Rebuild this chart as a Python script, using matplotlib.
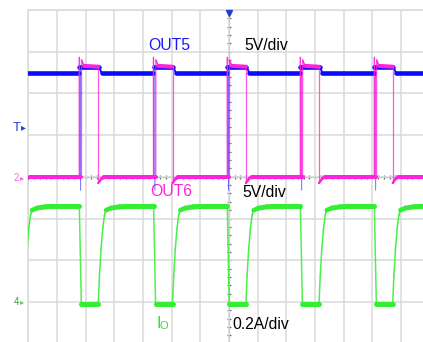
import matplotlib
matplotlib.use("Agg")
import matplotlib.pyplot as plt
import numpy as np
from matplotlib.collections import LineCollection
from matplotlib.colors import to_rgba

# screen is 14 x 8 divisions; times and levels below are in divisions
pulse_on = [1.82, 4.41, 6.98, 9.53, 12.11]
pulse_off = [2.44, 5.03, 7.59, 10.14, 12.71]
prev_off = -0.14

out5_level = 6.49
out5_high = 6.64
out5_glitch = 3.68

out6_low = 4.00
out6_high = 6.64
out6_peak = 6.87
out6_settle_t = [0.0, 0.05, 0.12, 0.20]
out6_settle_v = [3.85, 3.90, 3.96, 4.00]

io_high = 3.29
io_low = 0.94
io_rise_t = [0.0, 0.042, 0.098, 0.157, 0.216, 0.272, 0.446, 0.73]
io_rise_v = [0.94, 1.63, 2.28, 2.76, 3.08, 3.20, 3.25, 3.28]

PX_X = 28.67  # pixels per horizontal division
PX_Y = 41.7   # pixels per vertical division

BLUE = "#0a0aff"
PINK = "#ff22dd"
GREEN = "#33ee33"
GRID = "#dadada"
FONT = "Liberation Sans"


def build_out5():
    t, v = [-0.6], [out5_level]
    for on, off in zip([None] + pulse_on, [prev_off] + pulse_off):
        if on is not None:
            t += [on - 0.05, on - 0.04, on, on + 0.005, on + 0.01]
            v += [out5_level, out5_high, out5_high, out5_glitch, out5_high]
        t += [off + 0.02, off + 0.12]
        v += [out5_high, out5_level]
    t.append(14.6)
    v.append(out5_level)
    return t, v


def build_out6():
    t, v = [-0.6], [out6_low]
    for on, off in zip([None] + pulse_on, [prev_off] + pulse_off):
        if on is not None:
            t += [on - 0.045, on - 0.045, on - 0.04, on + 0.035, on + 0.04, on + 0.12]
            v += [out6_low, out6_peak, out6_low, out6_low, 6.80, out6_high + 0.02]
            t.append(off)
            v.append(out6_high)
        t += [off + dt for dt in out6_settle_t]
        v += list(out6_settle_v)
    t.append(14.6)
    v.append(out6_low)
    return t, v


def build_io():
    t, v = [], []
    for on, off in zip([None] + pulse_on, [prev_off] + pulse_off):
        if on is not None:
            t += [on - 0.04, on + 0.03]
            v += [io_high, io_low]
        t += [off + dt for dt in io_rise_t]
        v += list(io_rise_v)
        t.append(off + 1.0)
        v.append(io_high)
    # keep times increasing where the flat top meets the next falling edge
    order = np.argsort(t, kind="stable")
    t = list(np.array(t)[order])
    v = list(np.array(v)[order])
    t.append(14.6)
    v.append(io_high)
    return t, v


def draw_trace(ax, t, v, color, thick, thin, z, edge_alpha=0.6):
    t = np.asarray(t, float)
    v = np.asarray(v, float)
    pts = np.column_stack([t, v])
    segs = np.stack([pts[:-1], pts[1:]], axis=1)
    dx = np.diff(t) * PX_X
    dy = np.diff(v) * PX_Y
    length = np.hypot(dx, dy)
    keep = length > 0
    cosang = np.abs(dx[keep]) / length[keep]
    widths = np.maximum(thin, thick * cosang)
    # fast edges are drawn fainter, like a phosphor trace
    rgba = np.tile(to_rgba(color), (keep.sum(), 1))
    rgba[:, 3] = edge_alpha + (1 - edge_alpha) * np.clip(cosang * 3, 0, 1)
    lc = LineCollection(segs[keep], colors=rgba, linewidths=widths,
                        capstyle="round", joinstyle="round", zorder=z)
    ax.add_collection(lc)


fig = plt.figure(figsize=(4.23, 3.42), dpi=100)
fig.patch.set_facecolor("white")
ax = fig.add_axes([28.3 / 423, -1.6 / 342, 14 * PX_X / 423, 8 * PX_Y / 342])
ax.set_xlim(0, 14)
ax.set_ylim(0, 8)
ax.set_xticks(range(15))
ax.set_yticks(range(9))
ax.grid(True, color=GRID, lw=1.1)
ax.tick_params(length=0, labelbottom=False, labelleft=False)
for side in ("top", "left"):
    ax.spines[side].set_color(GRID)
    ax.spines[side].set_linewidth(1.1)
for side in ("right", "bottom"):
    ax.spines[side].set_visible(False)

# center graticule with minor marks
ax.axvline(7, color="#a0a0a0", lw=0.8, zorder=1)
ax.axhline(4, color="#a0a0a0", lw=0.8, zorder=1)
ax.plot(np.full(41, 7.0), np.arange(0, 8.01, 0.2), ls="none", marker="_",
        ms=2.6, mew=0.9, color="#707070", zorder=1)
ax.plot(np.arange(0, 14.01, 0.2), np.full(71, 4.0), ls="none", marker="|",
        ms=2.6, mew=0.9, color="#707070", zorder=1)

draw_trace(ax, *build_io(), GREEN, thick=3.6, thin=1.1, z=3, edge_alpha=0.85)
draw_trace(ax, *build_out5(), BLUE, thick=3.3, thin=0.7, z=4, edge_alpha=0.35)
draw_trace(ax, *build_out6(), PINK, thick=2.9, thin=0.9, z=5, edge_alpha=0.75)

# trigger position marker
ax.plot(7, 7.94, marker="v", ms=4.5, color="#2040d0", clip_on=False, zorder=6)

txt = dict(fontfamily=FONT, fontsize=11.3, va="baseline", ha="left")
ax.text(4.17, 7.04, "OUT5", color="#1a1aee", **txt)
ax.text(7.53, 7.04, "5V/div", color="black", **txt)
ax.text(4.24, 3.53, "OUT6", color=PINK, **txt)
ax.text(7.47, 3.51, "5V/div", color="black", **txt)
ax.text(7.12, 0.36, "0.2A/div", color="black", **txt)
ax.text(4.47, 0.38, "I", color="#33dd33", **txt)
ax.text(4.59, 0.34, "O", color="#33dd33", fontfamily=FONT, fontsize=8,
        va="baseline", ha="left")

# channel reference markers in the left margin
ax.text(-0.54, 5.10, "T", color="#2244dd", fontfamily=FONT, fontsize=9.5,
        va="baseline", ha="left")
ax.text(-0.26, 5.12, "▸", color="#2244dd", fontfamily="DejaVu Sans", fontsize=7,
        va="baseline", ha="left")
ax.text(-0.50, 3.90, "2", color="#ff66ee", fontfamily=FONT, fontsize=7,
        va="baseline", ha="left")
ax.text(-0.28, 3.92, "▸", color="#ff66ee", fontfamily="DejaVu Sans", fontsize=6,
        va="baseline", ha="left")
ax.text(-0.52, 0.92, "4", color="#3a9a3a", fontfamily=FONT, fontsize=7,
        va="baseline", ha="left")
ax.text(-0.28, 0.94, "▸", color="#66cc66", fontfamily="DejaVu Sans", fontsize=6,
        va="baseline", ha="left")

fig.savefig("out.png", dpi=100, facecolor="white")
